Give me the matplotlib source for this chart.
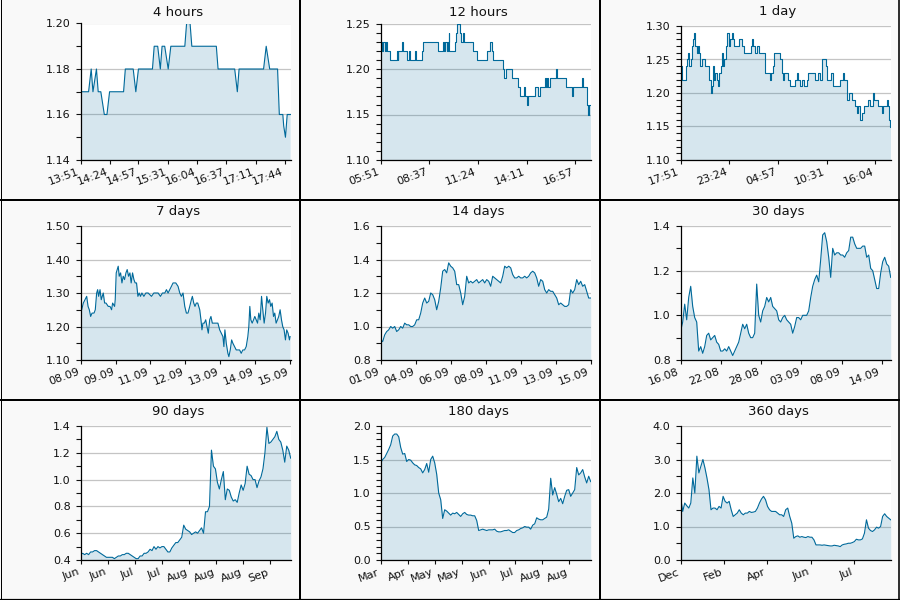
import numpy as np
import matplotlib
matplotlib.use("Agg")
import matplotlib.pyplot as plt
from matplotlib.lines import Line2D
from matplotlib.ticker import MultipleLocator, FormatStrFormatter

# ---------------- data ----------------
titles = ["4 hours", "12 hours", "1 day", "7 days", "14 days", "30 days",
          "90 days", "180 days", "360 days"]

# 4 hours (minutes from start)
h4_x = [0, 9, 12, 14, 18, 20, 23, 27, 30, 33, 49, 51, 60, 63, 66, 82, 84, 88, 91, 93, 96, 100,
        103, 119, 121, 125, 127, 155, 157, 176, 179, 181, 209, 212, 216, 225, 227, 231, 232,
        234, 236, 240]
h4_y = [1.17, 1.17, 1.18, 1.17, 1.18, 1.17, 1.17, 1.16, 1.16, 1.17, 1.17, 1.18, 1.18, 1.17,
        1.18, 1.18, 1.19, 1.19, 1.18, 1.19, 1.19, 1.18, 1.19, 1.19, 1.20, 1.20, 1.19, 1.19,
        1.18, 1.18, 1.17, 1.18, 1.18, 1.19, 1.18, 1.18, 1.16, 1.16, 1.155, 1.15, 1.16, 1.16]
h4_ticks = ["13:51", "14:24", "14:57", "15:31", "16:04", "16:37", "17:11", "17:44"]
h4_tickpos = [0, 33, 66, 100, 133, 166, 200, 233]

# 12 hours (minutes from start, step values)
h12_x = [0, 6, 8, 16, 18, 22, 32, 55, 58, 61, 64, 72, 76, 91, 96, 99, 104, 118, 121, 140, 146,
         198, 215, 218, 222, 226, 230, 233, 235, 255, 258, 262, 272, 276, 282, 285, 316, 330,
         366, 376, 380, 386, 420, 423, 430, 449, 472, 476, 492, 496, 500, 504, 528, 541, 545,
         563, 567, 571, 575, 579, 601, 605, 634, 656, 659, 690, 694, 706, 710, 714, 720]
h12_y = [1.23, 1.22, 1.23, 1.22, 1.23, 1.22, 1.21, 1.22, 1.21, 1.22, 1.22, 1.23, 1.22, 1.21,
         1.22, 1.21, 1.21, 1.22, 1.21, 1.22, 1.23, 1.22, 1.23, 1.22, 1.23, 1.22, 1.23, 1.24,
         1.22, 1.23, 1.24, 1.25, 1.24, 1.23, 1.24, 1.23, 1.22, 1.21, 1.22, 1.23, 1.22, 1.21,
         1.20, 1.19, 1.20, 1.19, 1.18, 1.17, 1.18, 1.17, 1.16, 1.17, 1.18, 1.17, 1.18, 1.19,
         1.18, 1.19, 1.18, 1.19, 1.20, 1.19, 1.18, 1.17, 1.18, 1.19, 1.18, 1.16, 1.15, 1.16,
         1.16]
h12_ticks = ["05:51", "08:37", "11:24", "14:11", "16:57"]
h12_tickpos = [0, 166, 333, 500, 666]

# 1 day (hours from start, step values)
d1_x = [0, 0.11, 0.61, 0.76, 0.88, 0.99, 1.14, 1.26, 1.45, 1.56, 1.64, 1.83, 1.94, 2.06, 2.21,
        2.40, 2.78, 3.16, 3.28, 3.43, 3.54, 3.66, 3.81, 3.96, 4.11, 4.27, 4.42, 4.57, 4.69,
        4.80, 4.95, 5.18, 5.33, 5.49, 5.64, 5.83, 5.94, 6.10, 6.71, 6.97, 7.24, 8.00, 8.15,
        8.31, 8.50, 8.76, 8.99, 9.68, 10.21, 10.33, 10.52, 10.67, 11.35, 11.54, 11.73, 11.85,
        12.31, 12.50, 13.07, 13.26, 13.45, 13.64, 13.83, 14.10, 14.40, 14.59, 15.35, 15.74,
        15.93, 16.12, 16.38, 16.57, 16.76, 17.15, 17.45, 18.21, 18.52, 18.67, 18.97, 19.05,
        19.28, 19.55, 19.93, 20.12, 20.31, 20.50, 20.69, 20.96, 21.45, 21.64, 21.95, 22.10,
        22.59, 22.97, 23.09, 23.54, 23.66, 23.85, 23.93, 24.0]
d1_y = [1.24, 1.22, 1.24, 1.25, 1.26, 1.24, 1.25, 1.27, 1.28, 1.29, 1.27, 1.26, 1.27, 1.26,
        1.24, 1.25, 1.24, 1.24, 1.22, 1.20, 1.21, 1.24, 1.22, 1.23, 1.22, 1.21, 1.23, 1.24,
        1.26, 1.24, 1.25, 1.27, 1.29, 1.27, 1.28, 1.29, 1.28, 1.27, 1.28, 1.27, 1.26, 1.27,
        1.28, 1.27, 1.26, 1.27, 1.26, 1.23, 1.22, 1.23, 1.24, 1.26, 1.25, 1.23, 1.22, 1.23,
        1.22, 1.21, 1.22, 1.23, 1.22, 1.21, 1.22, 1.21, 1.22, 1.23, 1.22, 1.23, 1.22, 1.25,
        1.25, 1.24, 1.22, 1.23, 1.21, 1.22, 1.23, 1.22, 1.21, 1.19, 1.20, 1.19, 1.18, 1.17,
        1.18, 1.16, 1.17, 1.18, 1.19, 1.18, 1.20, 1.19, 1.18, 1.17, 1.18, 1.19, 1.18, 1.16,
        1.15, 1.16]
d1_ticks = ["17:51", "23:24", "04:57", "10:31", "16:04"]
d1_tickpos = [0, 5.55, 11.1, 16.67, 22.22]

# 7 days (hours from start)
d7_x = [0, 0.8, 2.1, 3.5, 4.8, 5.9, 6.9, 8.0, 9.1, 10.7, 11.7, 12.8, 13.6, 14.4, 15.5, 16.5,
        18.1, 19.2, 20.3, 22.1, 23.5, 24.8, 25.6, 27.2, 27.7, 28.5, 29.3, 30.1, 30.9, 32.0,
        33.1, 34.1, 35.2, 36.3, 37.3, 38.4, 39.5, 40.5, 41.6, 42.7, 43.7, 44.8, 45.9, 46.9,
        48.0, 49.1, 50.7, 52.3, 54.1, 56.8, 58.7, 62.1, 64.0, 65.6, 67.5, 68.8, 70.1, 71.5,
        72.8, 74.1, 76.3, 78.1, 79.5, 80.8, 82.1, 83.5, 84.8, 86.1, 87.5, 88.8, 89.6, 90.7,
        91.7, 92.8, 93.9, 95.5, 96.5, 97.3, 98.1, 99.2, 100.3, 101.3, 102.4, 103.5, 104.5,
        105.6, 107.5, 110.1, 111.5, 112.8, 114.1, 114.9, 115.7, 116.8, 118.1, 118.9, 120.0,
        121.1, 122.1, 123.5, 124.8, 127.5, 128.8, 130.1, 131.5, 132.8, 134.1, 134.9, 135.7,
        136.5, 137.6, 138.7, 139.7, 140.8, 141.9, 142.9, 144.0, 145.1, 146.1, 147.2, 148.3,
        149.3, 150.4, 151.5, 152.5, 153.6, 154.7, 155.7, 156.8, 157.9, 158.9, 160.0, 161.1,
        162.1, 163.2, 164.3, 165.3, 166.4, 167.5, 168.0]
d7_y = [1.26, 1.25, 1.27, 1.28, 1.29, 1.26, 1.25, 1.23, 1.24, 1.24, 1.25, 1.30, 1.31, 1.29,
        1.31, 1.28, 1.30, 1.27, 1.27, 1.26, 1.26, 1.25, 1.27, 1.26, 1.28, 1.36, 1.37, 1.38,
        1.35, 1.36, 1.33, 1.35, 1.34, 1.36, 1.37, 1.35, 1.36, 1.33, 1.36, 1.34, 1.33, 1.33,
        1.29, 1.30, 1.29, 1.30, 1.29, 1.30, 1.30, 1.29, 1.30, 1.30, 1.29, 1.30, 1.30, 1.31,
        1.30, 1.31, 1.32, 1.33, 1.33, 1.32, 1.30, 1.29, 1.30, 1.26, 1.24, 1.24, 1.26, 1.28,
        1.29, 1.27, 1.26, 1.27, 1.27, 1.25, 1.22, 1.19, 1.21, 1.21, 1.22, 1.20, 1.18, 1.22,
        1.23, 1.21, 1.21, 1.21, 1.19, 1.18, 1.17, 1.14, 1.19, 1.15, 1.12, 1.11, 1.13, 1.16,
        1.15, 1.14, 1.13, 1.13, 1.12, 1.13, 1.13, 1.14, 1.17, 1.20, 1.26, 1.22, 1.21, 1.22,
        1.23, 1.22, 1.21, 1.24, 1.22, 1.29, 1.25, 1.21, 1.24, 1.29, 1.27, 1.28, 1.26, 1.27,
        1.23, 1.24, 1.21, 1.22, 1.23, 1.25, 1.22, 1.20, 1.19, 1.16, 1.19, 1.18, 1.16, 1.17]
d7_ticks = ["08.09", "09.09", "11.09", "12.09", "13.09", "14.09", "15.09"]
d7_tickpos = [0, 28, 56, 84, 112, 140, 168]

# 14 days (evenly sampled over 336 hours)
d14_y = [0.92, 0.91, 0.95, 0.97, 0.98, 1.00, 0.99, 1.00, 0.97, 0.98, 1.00, 0.99, 1.02, 1.01,
         1.01, 1.00, 1.00, 1.01, 1.04, 1.04, 1.08, 1.14, 1.17, 1.14, 1.15, 1.20, 1.19, 1.16,
         1.10, 1.15, 1.23, 1.33, 1.34, 1.32, 1.38, 1.36, 1.35, 1.33, 1.25, 1.25, 1.20, 1.13,
         1.18, 1.30, 1.26, 1.27, 1.26, 1.27, 1.28, 1.26, 1.27, 1.28, 1.26, 1.28, 1.27, 1.24,
         1.30, 1.29, 1.28, 1.27, 1.26, 1.30, 1.36, 1.35, 1.36, 1.35, 1.31, 1.29, 1.29, 1.30,
         1.29, 1.29, 1.30, 1.29, 1.30, 1.32, 1.33, 1.32, 1.29, 1.24, 1.28, 1.27, 1.22, 1.20,
         1.22, 1.21, 1.21, 1.19, 1.17, 1.13, 1.14, 1.13, 1.12, 1.12, 1.13, 1.22, 1.20, 1.22,
         1.28, 1.25, 1.27, 1.24, 1.25, 1.21, 1.17, 1.17]
d14_ticks = ["01.09", "04.09", "06.09", "08.09", "11.09", "13.09", "15.09"]
d14_tickpos = [0, 56, 112, 168, 224, 280, 336]

# 30 days (evenly sampled over 720 hours)
d30_y = [0.93, 0.97, 1.05, 0.98, 1.08, 1.13, 1.04, 0.99, 0.97, 0.84, 0.86, 0.83, 0.86, 0.91,
         0.92, 0.89, 0.90, 0.91, 0.88, 0.87, 0.84, 0.84, 0.85, 0.84, 0.86, 0.84, 0.82, 0.84,
         0.86, 0.88, 0.92, 0.96, 0.94, 0.96, 0.92, 0.90, 0.90, 0.92, 1.14, 1.00, 0.97, 1.02,
         1.04, 1.08, 1.06, 1.08, 1.04, 1.03, 1.02, 0.98, 0.97, 0.99, 1.00, 0.98, 0.97, 0.96,
         0.92, 0.95, 0.99, 0.99, 0.98, 1.00, 1.00, 1.00, 1.02, 1.08, 1.13, 1.16, 1.18, 1.15,
         1.25, 1.36, 1.37, 1.33, 1.26, 1.17, 1.30, 1.27, 1.28, 1.28, 1.27, 1.27, 1.26, 1.28,
         1.29, 1.35, 1.35, 1.32, 1.30, 1.30, 1.30, 1.31, 1.31, 1.26, 1.27, 1.21, 1.20, 1.16,
         1.12, 1.12, 1.19, 1.24, 1.26, 1.23, 1.22, 1.17]
d30_ticks = ["16.08", "22.08", "28.08", "03.09", "08.09", "14.09"]
d30_tickpos = [0, 138, 276, 414, 552, 690]

# 90 days (evenly sampled over 90 days)
d90_y = [0.44, 0.45, 0.44, 0.45, 0.44, 0.46, 0.46, 0.47, 0.47, 0.46, 0.45, 0.44, 0.43, 0.42,
         0.42, 0.42, 0.42, 0.41, 0.42, 0.43, 0.43, 0.44, 0.44, 0.45, 0.45, 0.44, 0.43, 0.42,
         0.41, 0.41, 0.43, 0.43, 0.45, 0.45, 0.46, 0.48, 0.47, 0.50, 0.48, 0.50, 0.49, 0.50,
         0.50, 0.48, 0.46, 0.46, 0.49, 0.51, 0.53, 0.53, 0.55, 0.57, 0.66, 0.63, 0.62, 0.61,
         0.59, 0.60, 0.61, 0.60, 0.62, 0.64, 0.60, 0.76, 0.76, 0.80, 1.22, 1.10, 1.08, 0.98,
         0.93, 1.00, 1.06, 0.85, 0.93, 0.92, 0.87, 0.84, 0.85, 0.83, 0.90, 0.96, 0.92, 0.97,
         1.10, 1.04, 1.03, 1.00, 1.00, 0.94, 0.99, 1.02, 1.08, 1.20, 1.39, 1.27, 1.28, 1.30,
         1.32, 1.36, 1.30, 1.28, 1.22, 1.13, 1.25, 1.22, 1.16]
d90_ticks = ["Jun", "Jun", "Jul", "Jul", "Aug", "Aug", "Aug", "Sep"]
d90_tickpos = [0, 11.6, 23.2, 34.8, 46.4, 58.0, 69.6, 81.2]

# 180 days (evenly sampled over 180 days)
d180_y = [1.45, 1.50, 1.53, 1.59, 1.65, 1.72, 1.85, 1.88, 1.88, 1.84, 1.68, 1.58, 1.59, 1.47,
          1.50, 1.49, 1.45, 1.42, 1.41, 1.38, 1.36, 1.30, 1.35, 1.44, 1.31, 1.50, 1.55, 1.45,
          1.28, 1.00, 0.90, 0.62, 0.75, 0.73, 0.70, 0.67, 0.70, 0.69, 0.71, 0.68, 0.65, 0.69,
          0.71, 0.68, 0.67, 0.67, 0.66, 0.66, 0.59, 0.44, 0.45, 0.46, 0.45, 0.44, 0.45, 0.45,
          0.45, 0.46, 0.43, 0.42, 0.42, 0.43, 0.44, 0.44, 0.45, 0.43, 0.41, 0.41, 0.44, 0.45,
          0.47, 0.48, 0.50, 0.49, 0.49, 0.46, 0.52, 0.54, 0.63, 0.61, 0.60, 0.60, 0.62, 0.64,
          0.76, 1.22, 0.97, 1.08, 0.98, 0.87, 0.92, 0.84, 0.95, 1.04, 1.05, 0.95, 1.00, 1.05,
          1.38, 1.27, 1.30, 1.35, 1.24, 1.15, 1.25, 1.17]
d180_ticks = ["Mar", "Apr", "May", "May", "Jun", "Jul", "Aug", "Aug"]
d180_tickpos = [0, 23.1, 46.2, 69.3, 92.4, 115.5, 138.6, 161.7]

# 360 days (evenly sampled over the available ~286 days)
d360_y = [1.85, 1.45, 1.70, 1.62, 1.55, 1.70, 2.45, 2.00, 3.10, 2.60, 2.80, 3.00, 2.75, 2.45,
          2.10, 1.50, 1.55, 1.55, 1.50, 1.60, 1.55, 1.90, 1.75, 1.70, 1.75, 1.50, 1.30, 1.35,
          1.40, 1.50, 1.40, 1.35, 1.40, 1.40, 1.45, 1.42, 1.43, 1.45, 1.55, 1.70, 1.82, 1.90,
          1.80, 1.60, 1.50, 1.45, 1.45, 1.45, 1.40, 1.35, 1.35, 1.30, 1.50, 1.55, 1.30, 1.10,
          0.65, 0.70, 0.72, 0.68, 0.70, 0.68, 0.67, 0.70, 0.68, 0.68, 0.60, 0.45, 0.45, 0.45,
          0.44, 0.45, 0.44, 0.43, 0.42, 0.42, 0.44, 0.43, 0.42, 0.40, 0.45, 0.47, 0.48, 0.50,
          0.50, 0.52, 0.55, 0.62, 0.60, 0.60, 0.63, 0.80, 1.20, 0.95, 0.88, 0.85, 0.90, 0.98,
          0.95, 1.00, 1.30, 1.38, 1.30, 1.25, 1.20]
d360_ticks = ["Dec", "Feb", "Apr", "Jun", "Jul"]
d360_tickpos = [0, 59, 118, 177, 236]

# ---------------- styling ----------------
LINE = "#00699a"
BG = "#f9f9f9"
panels = [
    dict(x=h4_x, y=h4_y, span=240, step=False, ylim=(1.14, 1.20), major=0.02, minor=0.01,
         fmt="%.2f", ticks=h4_tickpos, labels=h4_ticks, top=23.5),
    dict(x=h12_x, y=h12_y, span=720, step=True, ylim=(1.10, 1.25), major=0.05, minor=0.01,
         fmt="%.2f", ticks=h12_tickpos, labels=h12_ticks, top=23.5),
    dict(x=d1_x, y=d1_y, span=24, step=True, ylim=(1.10, 1.30), major=0.05, minor=0.01,
         fmt="%.2f", ticks=d1_tickpos, labels=d1_ticks, top=26),
    dict(x=d7_x, y=d7_y, span=168.5, step=False, ylim=(1.10, 1.50), major=0.10, minor=0.05,
         fmt="%.2f", ticks=d7_tickpos, labels=d7_ticks, top=26),
    dict(x=None, y=d14_y, span=336, step=False, ylim=(0.8, 1.6), major=0.2, minor=0.1,
         fmt="%.1f", ticks=d14_tickpos, labels=d14_ticks, top=26),
    dict(x=None, y=d30_y, span=720, step=False, ylim=(0.8, 1.4), major=0.2, minor=0.1,
         fmt="%.1f", ticks=d30_tickpos, labels=d30_ticks, top=26),
    dict(x=None, y=d90_y, span=90, step=False, ylim=(0.4, 1.4), major=0.2, minor=0.1,
         fmt="%.1f", ticks=d90_tickpos, labels=d90_ticks, top=26),
    dict(x=None, y=d180_y, span=180, step=False, ylim=(0.0, 2.0), major=0.5, minor=0.1,
         fmt="%.1f", ticks=d180_tickpos, labels=d180_ticks, top=26),
    dict(x=None, y=d360_y, span=286, step=False, ylim=(0.0, 4.0), major=1.0, minor=0.5,
         fmt="%.1f", ticks=d360_tickpos, labels=d360_ticks, top=26),
]

W, H = 900, 600
fig = plt.figure(figsize=(9, 6), dpi=100, facecolor=BG)

for i, p in enumerate(panels):
    r, c = divmod(i, 3)
    px, py = 300 * c, 200 * r
    left = px + 80.7
    right = px + 290.7
    top = py + p["top"]
    bottom = py + 160
    ax = fig.add_axes([left / W, 1 - bottom / H, (right - left) / W, (bottom - top) / H])
    ax.set_facecolor("white")
    x = np.array(p["x"]) if p["x"] is not None else np.linspace(0, p["span"], len(p["y"]))
    y = np.array(p["y"])
    ds = "steps-post" if p["step"] else "default"
    ax.fill_between(x, y, p["ylim"][0] - 1, step="post" if p["step"] else None,
                    color=LINE, alpha=0.16, linewidth=0, zorder=2)
    ax.plot(x, y, color=LINE, lw=0.8, drawstyle=ds, zorder=3)
    ax.set_xlim(0, p["span"])
    ax.set_ylim(*p["ylim"])
    ax.yaxis.set_major_locator(MultipleLocator(p["major"]))
    ax.yaxis.set_minor_locator(MultipleLocator(p["minor"]))
    ax.yaxis.set_major_formatter(FormatStrFormatter(p["fmt"]))
    ax.set_xticks(p["ticks"])
    ax.set_xticklabels(p["labels"], rotation=20, ha="right")
    ax.set_axisbelow(True)
    ax.grid(axis="y", which="major", color="#c4c4c4", lw=0.9, zorder=1)
    for s in ("top", "right"):
        ax.spines[s].set_visible(False)
    for s in ("left", "bottom"):
        ax.spines[s].set_linewidth(0.9)
        ax.spines[s].set_zorder(4)
    ax.tick_params(axis="both", which="both", direction="out", length=3.5, width=0.8,
                   labelsize=8, colors="#111111")
    ax.tick_params(axis="y", which="major", pad=3.8)
    ax.tick_params(axis="x", length=3.0, pad=2.0)
    fig.text((px + 178) / W, 1 - (py + 12) / H, titles[i], ha="center", va="center",
             fontsize=9.5, color="#111111")

# panel borders
for xv, lw in [(0.5, 1.0), (300, 2.0), (600, 2.0), (899, 1.6)]:
    fig.add_artist(Line2D([xv / W, xv / W], [0, 1], color="black", lw=lw * 0.72,
                          transform=fig.transFigure))
for yv, lw in [(200, 2.0), (400, 2.0), (599.3, 1.2)]:
    fig.add_artist(Line2D([0, 1], [1 - yv / H, 1 - yv / H], color="black", lw=lw * 0.72,
                          transform=fig.transFigure))

fig.savefig("out.png", dpi=100, facecolor=BG)
